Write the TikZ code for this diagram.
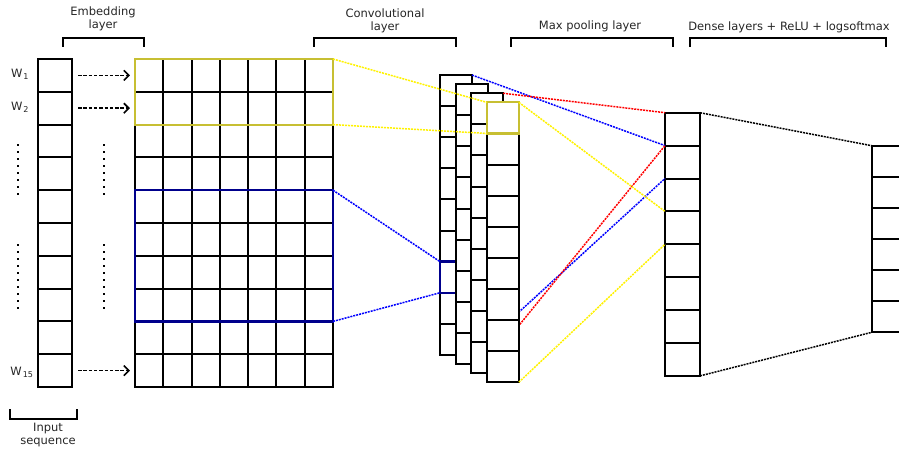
\documentclass[tikz,border=0pt]{standalone}
\usepackage{fontspec}
\setmainfont{DejaVu Sans}
\usetikzlibrary{arrows.meta}
\begin{document}
\begin{tikzpicture}[x=1pt,y=-1pt,
    cell/.style={draw,line width=2pt,fill=white,inner sep=0pt,outer sep=0pt},
    link/.style={line width=1.5pt,dash pattern=on 2pt off 1pt},
    feed/.style={line width=1.6pt,dash pattern=on 3.5pt off 1.8pt,-{Straight Barb[length=5pt,width=10pt,line width=1.6pt]},shorten <=6pt,shorten >=5pt},
    brace/.style={line width=2pt},
    lbl/.style={font=\fontsize{11.5}{13}\selectfont,text=black!85,align=center,inner sep=0pt}]
  \useasboundingbox (0,0) rectangle (899,450);

  \foreach \i in {0,...,9}
    \node[cell,minimum width=34pt,minimum height=32.8pt] (in\i) at (55,{75.4+32.8*\i}) {};
  \foreach \r in {0,...,9}
    \foreach \c in {0,...,6}
      \node[cell,minimum width=28.29pt,minimum height=32.8pt] (e\r-\c) at ({149.1+28.29*\c},{75.4+32.8*\r}) {};
  \foreach \i in {0,...,7}
    \node[cell,minimum width=35pt,minimum height=32.9pt] (d\i) at (682.5,{129.15+32.9*\i}) {};
  \foreach \i in {0,...,5}
    \node[cell,minimum width=35pt,minimum height=31.1pt] (o\i) at (889.2,{161.25+31.1*\i}) {};

  \node[lbl] (w1) at (20,74) {W\kern1pt\textsubscript{1}};
  \node[lbl] (w2) at (20,107) {W\kern1pt\textsubscript{2}};
  \node[lbl] (w15) at (22,372) {W\kern1pt\textsubscript{15}};
  \draw[feed] (in0) -- (e0-0);
  \draw[feed] (in1) -- (e1-0);
  \draw[feed] (in9) -- (e9-0);
  \foreach \x in {18,104}{
    \foreach \y in {145,152,...,194}
      \fill (\x-1,\y-1) rectangle (\x+1,\y+1);
    \foreach \y in {245,252,...,308}
      \fill (\x-1,\y-1) rectangle (\x+1,\y+1);
  }

  \draw[blue!55!black,line width=2.5pt] (e4-0.north west) rectangle (e7-6.south east);
  \draw[yellow!75!black,line width=2.2pt] (e0-0.north west) rectangle (e1-6.south east);

  \foreach \k in {0,...,3}{
    \foreach \i in {0,...,8}
      \node[cell,minimum width=32pt,minimum height=31.1pt] (m\k-\i) at ({456+15.6*\k},{90.6+9.1*\k+31.1*\i}) {};
    \ifcase\k
      \draw[blue!55!black,line width=2.5pt] (m0-6.north west) rectangle (m0-6.south east);
      \draw[link,blue] (e4-6.north east) -- (m0-6.north west);
      \draw[link,blue] (e7-6.south east) -- (m0-6.south west);
      \draw[link,blue] (m0-0.north east) -- (d1.north west);
      \draw[link,blue] (m0-8.south east) -- (d2.north west);
    \or
      \draw[link,red] (m1-8.south east) -- (d1.north west);
    \or
      \draw[link,red] (m2-0.north east) -- (d0.north west);
    \or
      \draw[yellow!75!black,line width=2.2pt] (m3-0.north west) rectangle (m3-0.south east);
      \draw[link,yellow] (m3-0.north east) -- (d3.north west);
      \draw[link,yellow] (m3-8.south east) -- (d4.north west);
    \fi
  }
  \draw[link,yellow] (e0-6.north east) -- (m3-0.north west);
  \draw[link,yellow] (e1-6.south east) -- (m3-0.south west);

  \draw[link,black] (d0.north east) -- (o0.north west);
  \draw[link,black] (d7.south east) -- (o5.south west);

  \draw[brace] (62.7,46.7) -- (62.7,37.7) -- (144.3,37.7) -- (144.3,46.7);
  \draw[brace] (314.3,46.7) -- (314.3,37.7) -- (456,37.7) -- (456,46.7);
  \draw[brace] (510.7,46.7) -- (510.7,37.7) -- (673.3,37.7) -- (673.3,46.7);
  \draw[brace] (690,46.7) -- (690,37.7) -- (886,37.7) -- (886,46.7);
  \draw[brace] (10,409) -- (10,419) -- (77,419) -- (77,409);

  \node[lbl] (emb) at (103,19) {Embedding\\layer};
  \node[lbl] (conv) at (385,21) {Convolutional\\layer};
  \node[lbl] (pool) at (590,26) {Max pooling layer};
  \node[lbl] (dense) at (789,27) {Dense layers + ReLU + logsoftmax};
  \node[lbl] (inp) at (48,435) {Input\\sequence};
\end{tikzpicture}
\end{document}
